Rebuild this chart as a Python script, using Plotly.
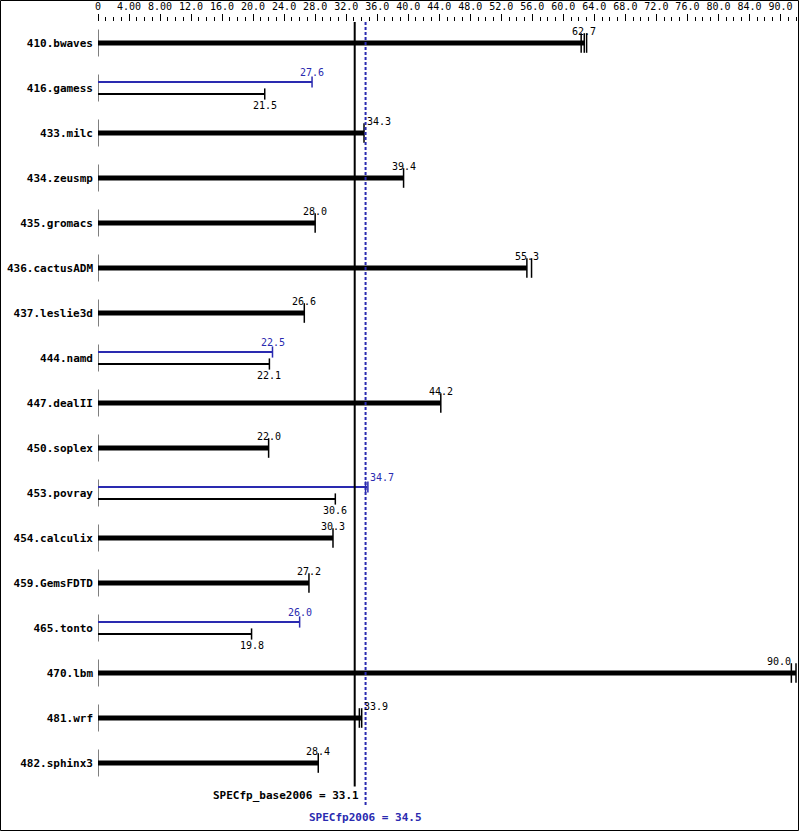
import plotly.graph_objects as go

benchmarks = ["410.bwaves", "416.gamess", "433.milc", "434.zeusmp", "435.gromacs",
              "436.cactusADM", "437.leslie3d", "444.namd", "447.dealII", "450.soplex",
              "453.povray", "454.calculix", "459.GemsFDTD", "465.tonto", "470.lbm",
              "481.wrf", "482.sphinx3"]
# base ratio (median) per benchmark
base = [62.7, 21.5, 34.3, 39.4, 28.0, 55.3, 26.6, 22.1, 44.2, 22.0,
        30.6, 30.3, 27.2, 19.8, 90.0, 33.9, 28.4]
# peak ratio, None where peak equals base
peak = [None, 27.6, None, None, None, None, None, 22.5, None, None,
        34.7, None, None, 26.0, None, None, None]
# individual run results that get their own end tick
base_runs = [[62.3, 62.7, 63.0], [21.5], [34.3], [39.4], [28.0], [55.3, 55.9], [26.6],
             [22.1], [44.2], [22.0], [30.6], [30.3], [27.2], [19.8], [89.4, 90.0],
             [33.7, 34.0], [28.4]]
peak_runs = [None, [27.6], None, None, None, None, None, [22.5], None, None,
             [34.5, 34.8], None, None, [26.0], None, None, None]
base_mean = 33.1
peak_mean = 34.5
tick_vals = list(range(0, 89, 4))
tick_text = ["0", "4.00", "8.00"] + [f"{v:.1f}" for v in range(12, 88, 4)] + ["90.0"]

BLUE = "#2a2ab0"
MONO = "DejaVu Sans Mono"
PX_ROW = 45.0  # pixels per row
OFF = 6 / PX_ROW  # offset of the two thin bars in split rows
TOP = -21 / PX_ROW

fig = go.Figure()

thick_x, thick_y, thin_b_x, thin_b_y, thin_p_x, thin_p_y = [], [], [], [], [], []
zero_x, zero_y = [], []
tk_thick = ([], [])
tk_thin_b = ([], [])
tk_thin_p = ([], [])
labels = []

for i, name in enumerate(benchmarks):
    zero_x += [0, 0, None]
    zero_y += [i - 0.3, i + 0.3, None]
    if peak[i] is None:
        thick_x += [0, base[i], None]
        thick_y += [i, i, None]
        for r in base_runs[i]:
            tk_thick[0].append(r)
            tk_thick[1].append(i)
        labels.append((base[i], i, 12, "black"))
    else:
        yp, yb = i - OFF, i + OFF
        thin_p_x += [0, peak[i], None]
        thin_p_y += [yp, yp, None]
        thin_b_x += [0, base[i], None]
        thin_b_y += [yb, yb, None]
        for r in peak_runs[i]:
            tk_thin_p[0].append(r)
            tk_thin_p[1].append(yp)
        for r in base_runs[i]:
            tk_thin_b[0].append(r)
            tk_thin_b[1].append(yb)
        labels.append((peak[i], yp, 10, BLUE))
        labels.append((base[i], yb, -11, "black"))

fig.add_trace(go.Scatter(x=zero_x, y=zero_y, mode="lines",
                         line=dict(color="black", width=1), cliponaxis=False))
fig.add_trace(go.Scatter(x=thick_x, y=thick_y, mode="lines",
                         line=dict(color="black", width=5), cliponaxis=False))
fig.add_trace(go.Scatter(x=thin_p_x, y=thin_p_y, mode="lines",
                         line=dict(color=BLUE, width=2), cliponaxis=False))
fig.add_trace(go.Scatter(x=thin_b_x, y=thin_b_y, mode="lines",
                         line=dict(color="black", width=2), cliponaxis=False))
for (xs, ys), col, size, w in [(tk_thick, "black", 14, 1.5),
                               (tk_thin_p, BLUE, 8, 1.5),
                               (tk_thin_b, "black", 8, 1.5)]:
    fig.add_trace(go.Scatter(x=xs, y=ys, mode="markers", cliponaxis=False,
                             marker=dict(symbol="line-ns", size=size,
                                         line=dict(color=col, width=w))))

# mean lines
fig.add_trace(go.Scatter(x=[base_mean, base_mean], y=[TOP, 16.52],
                         mode="lines", line=dict(color="black", width=2), cliponaxis=False))
fig.add_trace(go.Scatter(x=[peak_mean, peak_mean], y=[TOP, 16.96],
                         mode="lines", line=dict(color=BLUE, width=2, dash="3px,2px"),
                         cliponaxis=False))

for v, y, shift, col in labels:
    if base_mean - 1.5 < v < peak_mean + 1.5:
        anchor, xs = "left", 1
    elif v > 85:
        anchor, xs = "right", -3
    else:
        anchor, xs = "center", 0
    fig.add_annotation(x=v, y=y, text=f"{v:.1f}", showarrow=False, xanchor=anchor,
                       xshift=xs, yshift=shift,
                       font=dict(family=MONO, size=10, color=col))

fig.add_annotation(x=base_mean, y=752 / PX_ROW, text="<b>SPECfp_base2006 = 33.1</b>",
                   showarrow=False, xanchor="right", xshift=6, yanchor="middle",
                   font=dict(family=MONO, size=11, color="black"))
fig.add_annotation(x=peak_mean, yref="paper", y=1 - (817 - 22) / 786,
                   text="<b>SPECfp2006 = 34.5</b>",
                   showarrow=False, xanchor="center", yanchor="middle",
                   font=dict(family=MONO, size=11, color=BLUE))

# outer frame
fig.add_shape(type="rect", xref="paper", yref="paper",
              x0=-97.5 / 698, x1=700.5 / 698, y0=1 - 808.5 / 786, y1=1 + 21.5 / 786,
              line=dict(color="black", width=1))

fig.update_layout(
    width=799, height=831,
    margin=dict(l=98, r=3, t=22, b=23, autoexpand=False),
    plot_bgcolor="white", paper_bgcolor="white",
    showlegend=False,
    xaxis=dict(side="top", range=[0, 90], showgrid=False, zeroline=False, showline=False,
               automargin=False,
               tickmode="array", tickvals=tick_vals, ticktext=tick_text,
               ticks="outside", ticklen=7, tickwidth=1, tickcolor="black",
               tickfont=dict(family=MONO, size=10, color="black"),
               minor=dict(tickmode="array", tickvals=list(range(0, 91)), ticks="outside",
                          ticklen=4, tickwidth=1, tickcolor="black", showgrid=False)),
    yaxis=dict(range=[17.0, TOP], showgrid=False, zeroline=False, showline=False,
               automargin=False,
               tickmode="array", tickvals=list(range(len(benchmarks))), ticktext=benchmarks,
               ticks="", ticklabelstandoff=4,
               tickfont=dict(family=MONO, size=11, color="black", weight="bold")),
)

fig.write_html("out.html", config={"displayModeBar": False},
               post_script="document.body.style.margin='0px';")
